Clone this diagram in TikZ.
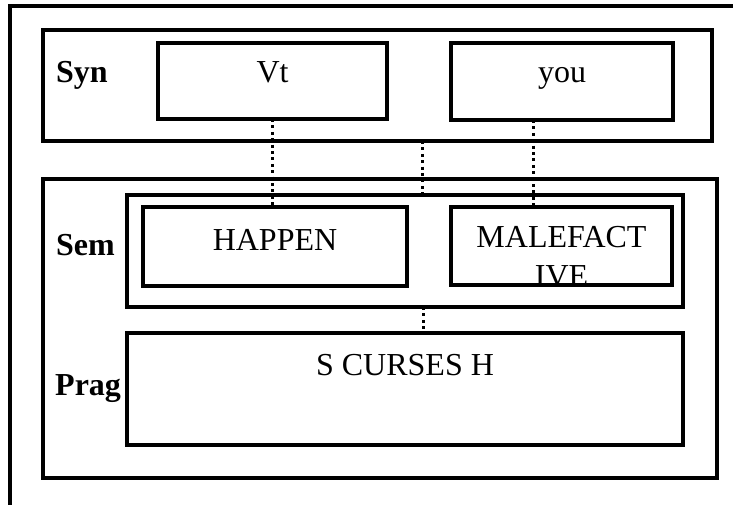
\documentclass[tikz,border=0pt]{standalone}
\usepackage{fontspec}
\setmainfont{Liberation Serif}
\usetikzlibrary{positioning, calc}

\begin{document}
\begin{tikzpicture}[
    x=1pt, y=-1pt,
    % estilos de cajas y textos
    frame/.style={draw, line width=3.2pt},
    layerbox/.style={rectangle, draw, line width=3.2pt, anchor=north west, inner sep=0pt, outer sep=0pt},
    word/.style={font=\fontsize{32}{39}\selectfont, inner sep=0pt, anchor=base, align=center},
    tier/.style={font=\fontsize{32}{39}\selectfont\bfseries, inner sep=0pt, anchor=base west},
    link/.style={line width=3pt, dash pattern=on 3pt off 3.4pt}
]

\useasboundingbox (0,0) rectangle (733,504);
\fill[white] (0,0) rectangle (733,504);
\clip (0,0) rectangle (733,504);

% marco exterior (cortado por la pagina)
\draw[frame] (10,6) rectangle (760,530);

% -------------------------
% SYN
% -------------------------
\node[layerbox, minimum width=669pt, minimum height=111pt] (synframe) at (43,30) {};
\node[layerbox, minimum width=229pt, minimum height=76pt] (vt) at (158,43) {};
\node[layerbox, minimum width=222pt, minimum height=77pt] (you) at (451,43) {};

\node[tier] (syn) at (56,82) {Syn};
\node[word] (vt-text) at (vt.center |- 0,82) {Vt};
\node[word] (you-text) at (you.center |- 0,82) {you};

% -------------------------
% SEM / PRAG
% -------------------------
\node[layerbox, minimum width=674pt, minimum height=299pt] (semframe) at (43,179) {};
\node[layerbox, minimum width=556pt, minimum height=112pt] (seminner) at (127,195) {};
\node[layerbox, minimum width=264pt, minimum height=79pt] (happen) at (143,207) {};
\node[layerbox, minimum width=221pt, minimum height=78pt] (malef) at (451,207) {};
\node[layerbox, minimum width=556pt, minimum height=112pt] (prag) at (127,333) {};

\node[tier] (sem) at (56,255) {Sem};
\node[tier] (pragtier) at (55,395) {Prag};
\node[word] (happen-text) at (happen.center |- 0,250) {HAPPEN};
% la segunda linea queda cortada por la caja
\begin{scope}
    \clip (malef.north west) rectangle (malef.south east);
    \node[word] (malef-text) at (malef.center |- 0,286) {MALEFACT\\IVE};
\end{scope}
\node[word] (prag-text) at (prag.center |- 0,375) {S CURSES H};

% -------------------------
% CONEXIONES
% -------------------------
\coordinate (mid) at (422,0);
\draw[link] (vt.south) -- (vt.south |- happen.north);
\draw[link] ([xshift=-29pt]you.south) -- ([xshift=-29pt]you.south |- malef.north);
\draw[link] (synframe.south -| mid) -- (seminner.north -| mid);
\draw[link] ([xshift=1pt]seminner.south -| mid) -- ([xshift=1pt]prag.north -| mid);

\end{tikzpicture}
\end{document}
